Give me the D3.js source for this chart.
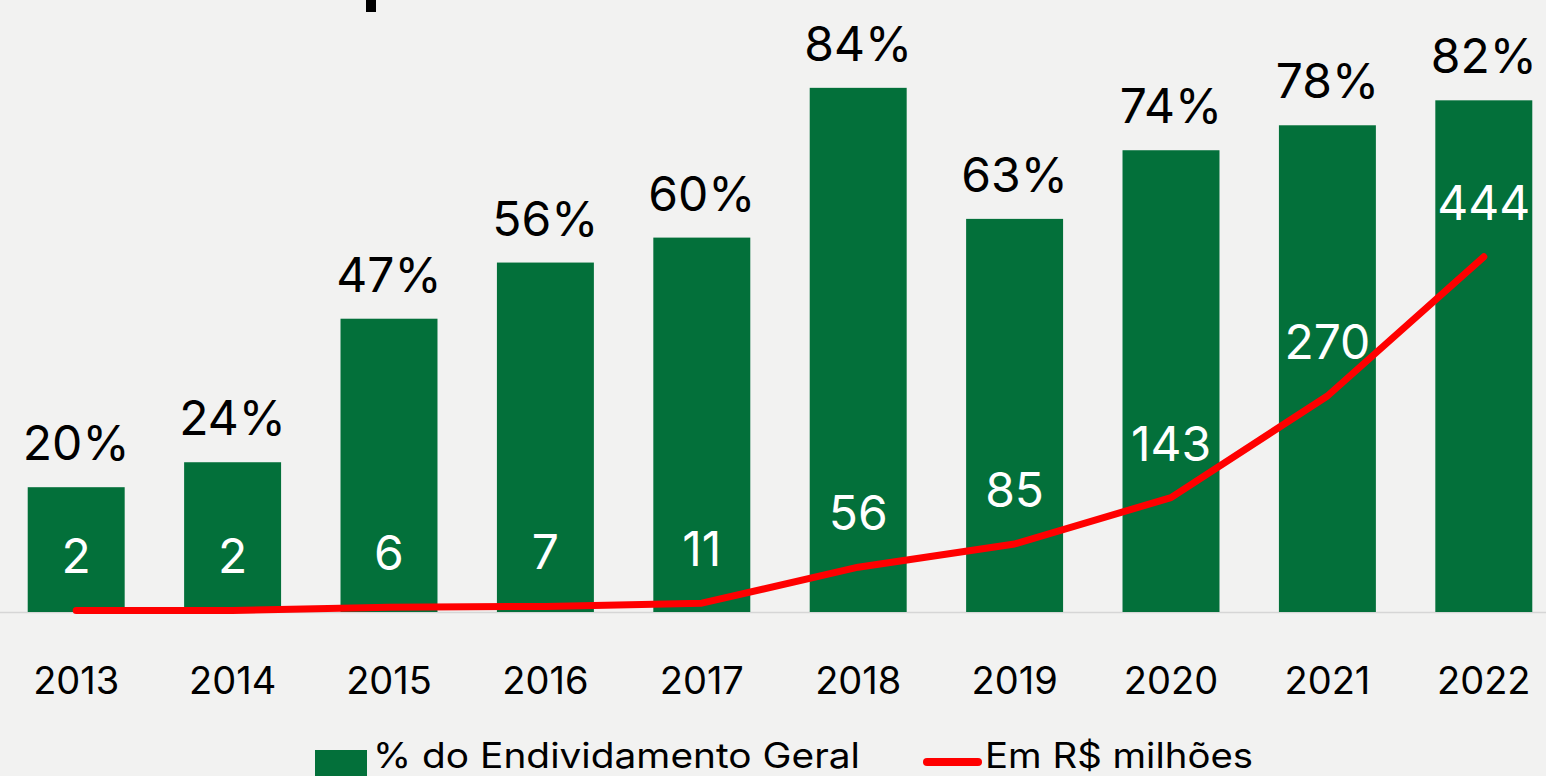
<!DOCTYPE html>
<html>
<head>
<meta charset="utf-8">
<script src="https://cdn.jsdelivr.net/npm/d3@7"></script>
<style>
  html, body { margin: 0; padding: 0; background: #f2f2f1; overflow: hidden; }
  svg { display: block; }
  text { font-family: "Inter", "Open Sans", sans-serif; }
</style>
</head>
<body>
<svg id="chart" width="1546" height="776"></svg>
<script>
// Years on the category axis
const years = ["2013", "2014", "2015", "2016", "2017", "2018", "2019", "2020", "2021", "2022"];
// Share of total indebtedness (bars)
const sharePct = [20, 24, 47, 56, 60, 84, 63, 74, 78, 82];
// Amount in R$ millions (line)
const amountMi = [2, 2, 6, 7, 11, 56, 85, 143, 270, 444];
// Legend entries
const legendLabels = ["% do Endividamento Geral", "Em R$ milhões"];

const W = 1546, H = 776;
const baseY = 612;
const green = "#03703a";
const red = "#ff0000";

const svg = d3.select("#chart");

svg.append("rect").attr("width", W).attr("height", H).attr("fill", "#f2f2f1");

// Category scale, extends slightly past the right edge of the view
const x = d3.scaleBand().domain(years).range([-2, 1562]).paddingInner(0.38).paddingOuter(0.19);

// Primary axis: percentage
const y = d3.scaleLinear().domain([0, 100]).range([baseY, baseY - 624]);
// Secondary axis: R$ millions
const y2 = d3.scaleLinear().domain([0, 780]).range([baseY, baseY - 624]);

// Remnant of the heading above the plot
svg.append("rect").attr("x", 366).attr("y", 0).attr("width", 10).attr("height", 12).attr("fill", "#000");

// Baseline
svg.append("line")
  .attr("x1", 0).attr("x2", W)
  .attr("y1", baseY + 0.5).attr("y2", baseY + 0.5)
  .attr("stroke", "#d6d6d6").attr("stroke-width", 1.5);

// Bars
svg.append("g").selectAll("rect")
  .data(years)
  .join("rect")
  .attr("x", d => x(d))
  .attr("y", (d, i) => y(sharePct[i]))
  .attr("width", x.bandwidth())
  .attr("height", (d, i) => baseY - y(sharePct[i]))
  .attr("fill", green);

// Percentage labels above bars
svg.append("g").selectAll("text")
  .data(years)
  .join("text")
  .attr("x", d => x(d) + x.bandwidth() / 2)
  .attr("y", (d, i) => y(sharePct[i]) - 27)
  .attr("text-anchor", "middle")
  .attr("font-size", 48)
  .attr("fill", "#000")
  .text((d, i) => sharePct[i] + "%");

// Amount line
const line = d3.line()
  .x((d, i) => x(years[i]) + x.bandwidth() / 2)
  .y(d => y2(d));

svg.append("path")
  .datum(amountMi)
  .attr("d", line)
  .attr("fill", "none")
  .attr("stroke", red)
  .attr("stroke-width", 7)
  .attr("stroke-linecap", "round")
  .attr("stroke-linejoin", "round");

// Amount labels above line points
svg.append("g").selectAll("text")
  .data(amountMi)
  .join("text")
  .attr("x", (d, i) => x(years[i]) + x.bandwidth() / 2)
  .attr("y", d => y2(d) - 37)
  .attr("text-anchor", "middle")
  .attr("font-size", 48)
  .attr("fill", "#fff")
  .text(d => d);

// Category axis labels
const xAxis = d3.axisBottom(x).tickSize(0).tickPadding(0);
const gx = svg.append("g").attr("transform", `translate(0,${baseY})`).call(xAxis);
gx.select(".domain").remove();
gx.selectAll("text")
  .attr("y", 82)
  .attr("dy", null)
  .attr("font-size", 38)
  .attr("font-family", "Inter, sans-serif")
  .attr("fill", "#000");

// Legend along the bottom edge
const lg = svg.append("g");
lg.append("rect").attr("x", 315).attr("y", 750).attr("width", 52).attr("height", 26).attr("fill", green);
lg.append("text").attr("x", 373).attr("y", 768).attr("font-size", 35).attr("fill", "#000")
  .attr("textLength", 487).attr("lengthAdjust", "spacingAndGlyphs")
  .text(legendLabels[0]);
lg.append("line").attr("x1", 927).attr("x2", 978).attr("y1", 762).attr("y2", 762)
  .attr("stroke", red).attr("stroke-width", 8).attr("stroke-linecap", "round");
lg.append("text").attr("x", 985).attr("y", 768).attr("font-size", 35).attr("fill", "#000")
  .attr("textLength", 268).attr("lengthAdjust", "spacingAndGlyphs")
  .text(legendLabels[1]);
</script>
</body>
</html>
